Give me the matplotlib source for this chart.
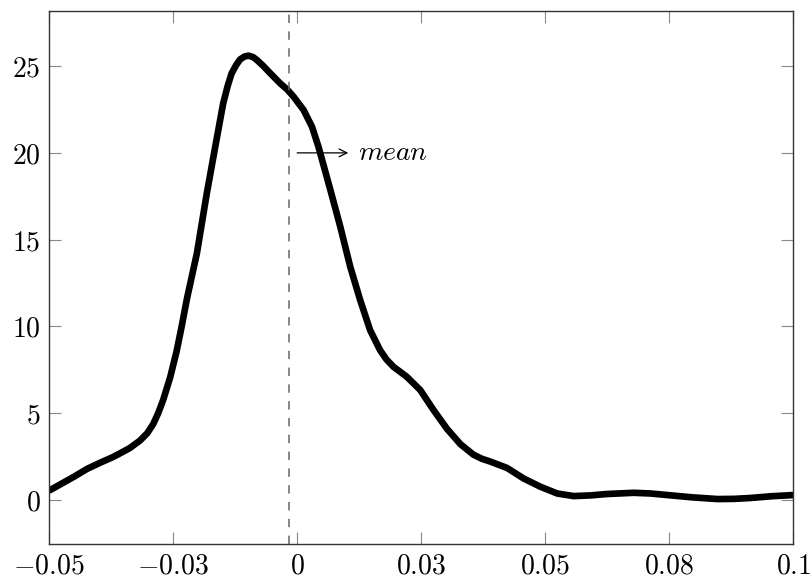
import numpy as np
import matplotlib
matplotlib.use("Agg")
import matplotlib.pyplot as plt

plt.rcParams['mathtext.fontset'] = 'cm'
plt.rcParams['font.family'] = 'serif'
plt.rcParams['font.serif'] = ['DejaVu Serif']

# density curve
x_vals = [-0.0500, -0.0450, -0.0423, -0.0397, -0.0371, -0.0357, -0.0337, -0.0317,
          -0.0302, -0.0290, -0.0280, -0.0270, -0.0256, -0.0243, -0.0233, -0.0222,
          -0.0202, -0.0182, -0.0165, -0.0149, -0.0140, -0.0132, -0.0123, -0.0115,
          -0.0106, -0.0098, -0.0089, -0.0081, -0.0068, -0.0054, -0.0034, -0.0020,
          -0.0007, 0.0013, 0.0030, 0.0043, 0.0067, 0.0087, 0.0107, 0.0127,
          0.0147, 0.0167, 0.0180, 0.0194, 0.0208, 0.0221, 0.0248, 0.0275,
          0.0302, 0.0329, 0.0355, 0.0372, 0.0389, 0.0423, 0.0456, 0.0490, 0.0524,
          0.0557, 0.0591, 0.0624, 0.0678, 0.0712, 0.0746, 0.0795, 0.0847,
          0.0880, 0.0913, 0.0955, 0.1000]
y_vals = [0.54, 1.34, 1.80, 2.15, 2.48, 2.69, 3.00, 3.42,
          3.85, 4.38, 5.00, 5.76, 7.05, 8.55, 9.95, 11.60,
          14.21, 17.67, 20.35, 22.85, 23.85, 24.58, 25.05, 25.38,
          25.55, 25.60, 25.52, 25.35, 25.00, 24.58, 24.00, 23.65,
          23.23, 22.47, 21.50, 20.35, 17.86, 15.74, 13.44, 11.52,
          9.79, 8.64, 8.10, 7.68, 7.38, 7.10, 6.34, 5.18,
          4.10, 3.22, 2.62, 2.38, 2.22, 1.85, 1.25, 0.77, 0.38,
          0.23, 0.27, 0.35, 0.42, 0.38, 0.29, 0.16, 0.06,
          0.07, 0.12, 0.22, 0.29]

mean_x = -0.0017
arrow_y = 20
xticks = [-0.05, -0.025, 0, 0.025, 0.05, 0.075, 0.1]
xtick_labels = ['$-0.05$', '$-0.03$', '$0$', '$0.03$', '$0.05$', '$0.08$', '$0.1$']
yticks = [0, 5, 10, 15, 20, 25]

fig = plt.figure(figsize=(8.12, 5.75), dpi=100)
ax = fig.add_axes([0.0603, 0.0539, 0.9169, 0.9275])

ax.plot(x_vals, y_vals, color='black', linewidth=4.8,
        solid_capstyle='butt', solid_joinstyle='round')
ax.axvline(mean_x, color='#666666', linewidth=1.1, dashes=(5.5, 5.5))

ax.annotate('', xy=(0.0103, arrow_y), xytext=(0, arrow_y),
            arrowprops=dict(arrowstyle='->', color='black', lw=0.9,
                            shrinkA=0, shrinkB=0, mutation_scale=14))
ax.text(0.0123, arrow_y, '$mean$', fontsize=20, va='center', ha='left')

ax.set_xlim(-0.05, 0.1)
ax.set_ylim(-2.53, 28.19)
ax.set_xticks(xticks)
ax.set_xticklabels(xtick_labels)
ax.set_yticks(yticks)
ax.set_yticklabels(['$%d$' % v for v in yticks])

ax.tick_params(direction='in', length=8.5, width=0.8, color='#888888',
               labelsize=20, top=True, right=True, pad=6)
for s in ax.spines.values():
    s.set_linewidth(1.0)
    s.set_color('#333333')

fig.savefig('out.png', dpi=100)
